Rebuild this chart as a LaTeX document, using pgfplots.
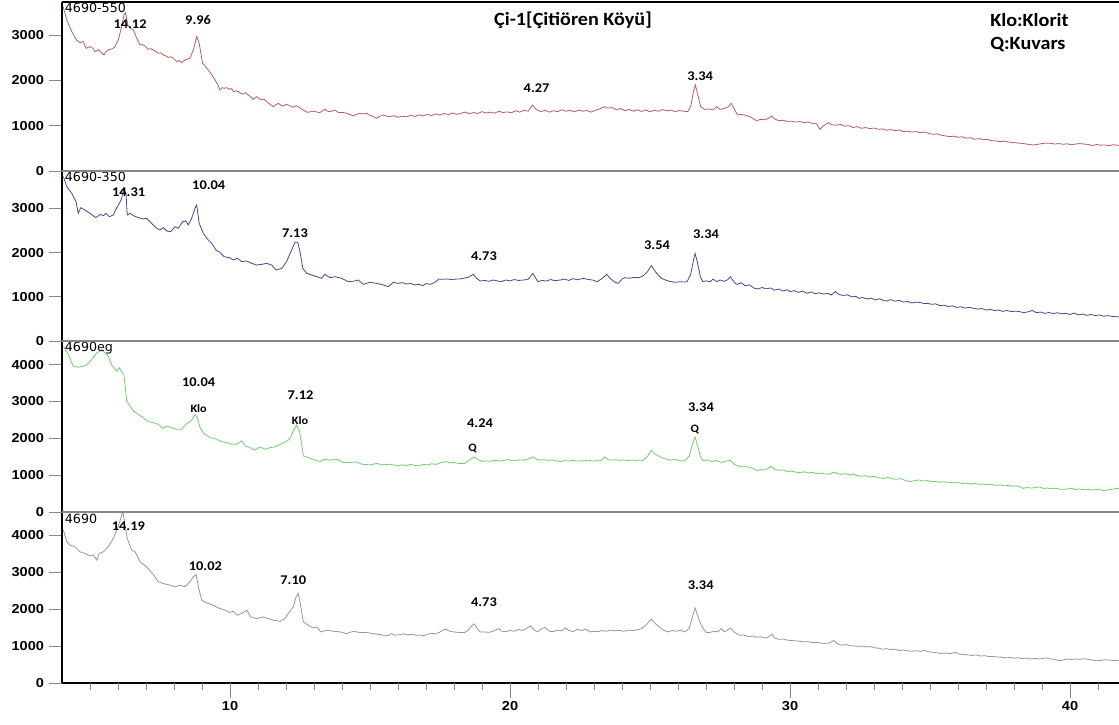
\documentclass[border=0pt]{standalone}
\usepackage{fontspec}
\usepackage{pgfplots}
\usepackage{pgfplotstable}
\pgfplotsset{compat=1.18}
\setmainfont{Liberation Sans}
\newfontfamily\tickfont[FakeStretch=1.12]{Liberation Sans}
\newfontfamily\calfont[FakeStretch=1.08]{Carlito}
\newfontfamily\samplefont{DejaVu Sans}

\definecolor{redline}{RGB}{180,95,92}
\definecolor{navyline}{RGB}{72,72,138}
\definecolor{greenline}{RGB}{112,205,112}
\definecolor{grayline}{RGB}{150,150,150}
\definecolor{sepgray}{RGB}{135,135,135}

% 2-theta (deg) vs. intensity (counts), sample 4690-550
\pgfplotstableread{
x y
4.04 3630
4.17 3334
4.35 3076
4.52 2892
4.64 2834
4.76 2856
4.86 2708
5.00 2745
5.10 2708
5.18 2635
5.30 2680
5.42 2600
5.50 2561
5.58 2640
5.65 2672
5.71 2686
5.80 2700
5.89 2745
6.01 2892
6.13 3187
6.21 3444
6.27 3496
6.35 3224
6.45 3150
6.55 3113
6.67 2929
6.79 2782
6.88 2790
6.96 2760
7.08 2686
7.17 2700
7.26 2672
7.35 2640
7.44 2598
7.53 2610
7.62 2561
7.71 2540
7.80 2510
7.90 2520
7.98 2488
8.10 2414
8.18 2440
8.27 2392
8.39 2451
8.48 2470
8.57 2488
8.69 2672
8.81 2966
8.90 2819
9.02 2377
9.10 2330
9.17 2267
9.26 2200
9.35 2120
9.42 2060
9.50 1972
9.57 1900
9.64 1788
9.72 1840
9.79 1825
9.88 1840
10.00 1803
10.06 1820
10.12 1752
10.21 1770
10.30 1752
10.39 1710
10.48 1700
10.56 1730
10.65 1678
10.74 1640
10.83 1582
10.90 1620
10.95 1641
11.04 1600
11.13 1568
11.22 1580
11.31 1531
11.43 1470
11.55 1420
11.64 1460
11.73 1494
11.82 1450
11.90 1435
12.00 1470
12.08 1457
12.17 1430
12.26 1406
12.35 1440
12.44 1420
12.53 1380
12.62 1347
12.71 1310
12.80 1295
12.92 1320
13.04 1310
13.12 1300
13.21 1288
13.30 1330
13.39 1362
13.48 1320
13.57 1310
13.66 1330
13.75 1347
13.84 1300
13.93 1288
14.05 1290
14.17 1273
14.28 1250
14.40 1214
14.52 1250
14.64 1273
14.76 1260
14.88 1273
14.97 1240
15.06 1214
15.15 1190
15.24 1163
15.36 1210
15.48 1236
15.60 1210
15.71 1200
15.85 1220
16.00 1185
16.15 1210
16.30 1195
16.45 1230
16.60 1205
16.75 1240
16.90 1215
17.05 1250
17.20 1225
17.35 1260
17.50 1235
17.65 1270
17.80 1245
17.95 1280
18.10 1250
18.25 1275
18.40 1300
18.55 1265
18.70 1290
18.85 1270
19.00 1310
19.15 1280
19.30 1300
19.45 1275
19.60 1320
19.75 1290
19.90 1305
20.05 1285
20.20 1330
20.35 1300
20.50 1340
20.65 1320
20.80 1457
20.95 1350
21.10 1310
21.25 1340
21.40 1300
21.55 1330
21.70 1310
21.85 1350
22.00 1320
22.15 1340
22.30 1305
22.45 1345
22.60 1320
22.75 1335
22.90 1300
23.05 1340
23.20 1370
23.37 1420
23.50 1390
23.65 1400
23.80 1350
23.95 1380
24.10 1330
24.25 1360
24.40 1320
24.55 1350
24.70 1315
24.85 1345
25.00 1310
25.15 1340
25.30 1320
25.45 1355
25.60 1330
25.75 1345
25.90 1310
26.05 1335
26.20 1320
26.35 1310
26.45 1420
26.55 1750
26.62 1899
26.70 1700
26.81 1420
26.95 1360
27.10 1370
27.25 1350
27.38 1420
27.50 1360
27.65 1380
27.80 1420
27.90 1494
28.00 1380
28.12 1236
28.25 1250
28.40 1230
28.57 1200
28.70 1150
28.81 1111
28.95 1140
29.10 1130
29.22 1160
29.34 1214
29.45 1150
29.60 1110
29.75 1120
29.90 1095
30.05 1100
30.20 1080
30.35 1090
30.50 1070
30.65 1080
30.80 1050
30.95 1040
31.07 920
31.20 1000
31.37 1067
31.50 1020
31.65 1010
31.80 1030
31.95 990
32.10 1000
32.25 960
32.40 980
32.55 942
32.70 960
32.85 935
33.00 950
33.15 920
33.30 930
33.45 900
33.60 915
33.75 890
33.90 905
34.05 870
34.20 880
34.35 860
34.50 870
34.65 845
34.80 860
34.95 830
35.10 810
35.25 820
35.40 790
35.55 775
35.70 758
35.85 770
36.00 745
36.15 755
36.30 725
36.45 735
36.60 700
36.75 715
36.90 690
37.05 700
37.20 670
37.35 665
37.50 648
37.65 660
37.80 640
37.95 630
38.10 620
38.25 610
38.40 600
38.55 585
38.69 574
38.85 590
39.00 605
39.15 615
39.30 610
39.45 595
39.60 605
39.75 590
39.90 600
40.05 580
40.20 595
40.35 605
40.48 596
40.65 585
40.80 560
40.95 585
41.10 570
41.25 575
41.40 560
41.55 580
41.75 565
}\tabA

% sample 4690-350
\pgfplotstableread{
x y
4.05 3717
4.17 3491
4.35 3340
4.50 3152
4.58 2888
4.67 3016
4.82 2963
5.00 2888
5.21 2790
5.36 2865
5.48 2835
5.57 2888
5.69 2812
5.83 2850
5.93 2986
6.05 3114
6.13 3227
6.21 3453
6.29 3303
6.33 2850
6.43 2888
6.55 2835
6.73 2790
6.90 2760
7.02 2775
7.20 2662
7.38 2549
7.50 2511
7.62 2564
7.74 2488
7.88 2473
8.04 2586
8.15 2549
8.31 2700
8.43 2715
8.51 2624
8.63 2775
8.75 3001
8.81 3076
8.90 2662
9.05 2435
9.19 2307
9.35 2209
9.50 2058
9.64 2006
9.79 1908
9.98 1885
10.12 1832
10.26 1870
10.42 1795
10.60 1810
10.77 1757
10.95 1719
11.13 1734
11.31 1757
11.49 1719
11.64 1606
11.85 1644
12.02 1795
12.20 2058
12.32 2232
12.42 2232
12.50 2021
12.60 1644
12.74 1531
12.92 1493
13.10 1455
13.27 1418
13.39 1508
13.57 1433
13.75 1455
13.99 1418
14.23 1342
14.46 1357
14.58 1380
14.76 1282
15.00 1327
15.24 1304
15.48 1267
15.65 1229
15.83 1327
16.00 1304
16.15 1320
16.30 1290
16.45 1300
16.60 1270
16.75 1280
16.89 1252
17.00 1300
17.15 1280
17.30 1320
17.46 1402
17.60 1395
17.75 1405
17.90 1390
18.05 1400
18.20 1402
18.35 1420
18.50 1440
18.62 1480
18.69 1508
18.80 1420
18.94 1357
19.10 1370
19.25 1350
19.40 1380
19.55 1360
19.68 1342
19.85 1380
20.00 1360
20.15 1390
20.30 1370
20.50 1380
20.65 1400
20.82 1531
20.99 1342
21.15 1370
21.30 1355
21.45 1390
21.60 1365
21.80 1380
21.95 1400
22.10 1370
22.25 1410
22.40 1385
22.63 1418
22.80 1390
22.95 1380
23.12 1342
23.30 1420
23.45 1508
23.60 1400
23.75 1330
23.86 1304
24.00 1400
24.10 1433
24.25 1420
24.40 1435
24.60 1433
24.75 1470
24.90 1560
25.05 1704
25.20 1560
25.41 1418
25.55 1380
25.70 1350
25.90 1327
26.05 1340
26.20 1335
26.32 1342
26.45 1500
26.55 1820
26.61 1983
26.70 1760
26.80 1450
26.89 1342
27.00 1360
27.15 1340
27.25 1400
27.38 1342
27.50 1380
27.65 1350
27.78 1390
27.87 1455
27.95 1380
28.05 1300
28.12 1282
28.25 1320
28.40 1250
28.55 1270
28.70 1200
28.86 1176
29.00 1210
29.15 1180
29.30 1200
29.45 1150
29.60 1175
29.75 1130
29.90 1160
30.00 1116
30.15 1140
30.30 1100
30.45 1130
30.60 1080
30.75 1110
30.90 1070
31.05 1090
31.20 1060
31.35 1080
31.48 1040
31.62 1120
31.75 1050
31.90 1030
32.05 1045
32.20 1000
32.35 1010
32.46 965
32.60 985
32.75 950
32.90 970
33.05 930
33.20 955
33.35 915
33.45 905
33.60 935
33.75 900
33.90 920
34.05 880
34.20 895
34.35 860
34.50 880
34.65 870
34.80 845
34.92 852
35.05 830
35.20 840
35.35 800
35.50 810
35.65 780
35.80 795
35.95 760
36.10 775
36.25 745
36.40 760
36.56 739
36.70 720
36.85 735
37.00 700
37.15 715
37.30 690
37.45 700
37.60 670
37.75 690
37.90 665
38.05 675
38.20 664
38.35 640
38.50 660
38.65 690
38.80 640
38.95 655
39.10 625
39.25 645
39.40 620
39.55 640
39.70 615
39.84 626
40.00 600
40.15 630
40.30 590
40.45 610
40.60 580
40.75 600
40.90 575
41.05 590
41.20 560
41.35 575
41.50 555
41.64 550
41.75 545
}\tabB

% sample 4690eg (glycolated)
\pgfplotstableread{
x y
4.05 4496
4.23 4271
4.40 3955
4.58 3928
4.76 3955
4.90 4000
5.06 4136
5.24 4316
5.42 4406
5.54 4316
5.65 4226
5.77 4000
5.86 3910
5.95 3820
6.05 3910
6.13 3820
6.21 3730
6.31 3009
6.43 2874
6.55 2739
6.73 2649
6.90 2559
7.08 2451
7.26 2424
7.44 2379
7.60 2271
7.74 2334
7.92 2289
8.10 2244
8.27 2244
8.45 2397
8.63 2487
8.75 2649
8.83 2559
8.93 2289
9.07 2126
9.29 2018
9.52 1973
9.70 1910
9.88 1883
10.06 1838
10.24 1838
10.42 1928
10.54 1793
10.71 1748
10.89 1676
11.07 1766
11.25 1703
11.43 1748
11.61 1766
11.79 1838
11.96 1883
12.12 1973
12.26 2198
12.38 2361
12.48 2198
12.56 1838
12.62 1523
12.80 1478
13.04 1406
13.21 1370
13.39 1433
13.57 1406
13.81 1433
14.05 1343
14.29 1343
14.52 1361
14.70 1297
15.00 1279
15.24 1316
15.48 1279
15.71 1297
16.00 1252
16.15 1280
16.30 1260
16.45 1290
16.60 1265
16.73 1252
16.90 1290
17.05 1280
17.20 1310
17.35 1290
17.50 1330
17.71 1370
17.85 1330
18.00 1345
18.15 1320
18.37 1315
18.50 1380
18.62 1450
18.73 1496
18.85 1420
19.02 1370
19.15 1390
19.30 1375
19.45 1405
19.60 1385
19.75 1395
19.92 1424
20.05 1400
20.20 1390
20.35 1420
20.50 1405
20.65 1440
20.82 1496
20.95 1430
21.07 1406
21.20 1420
21.35 1400
21.50 1410
21.65 1385
21.80 1370
21.95 1395
22.10 1380
22.25 1400
22.40 1385
22.63 1388
22.80 1405
22.95 1380
23.10 1395
23.25 1390
23.37 1496
23.50 1420
23.61 1406
23.75 1420
23.90 1400
24.05 1415
24.20 1395
24.35 1410
24.50 1400
24.60 1406
24.75 1400
24.90 1500
25.05 1676
25.20 1560
25.41 1478
25.55 1440
25.74 1406
25.90 1430
26.05 1395
26.23 1388
26.40 1520
26.52 1850
26.61 2036
26.70 1800
26.80 1500
26.89 1388
27.05 1420
27.20 1370
27.35 1400
27.55 1343
27.70 1380
27.87 1406
28.00 1300
28.20 1225
28.35 1250
28.57 1207
28.70 1180
28.81 1117
28.95 1150
29.10 1140
29.20 1180
29.34 1234
29.45 1160
29.60 1130
29.75 1140
29.90 1100
30.05 1110
30.20 1080
30.36 1072
30.50 1090
30.65 1060
30.80 1075
30.95 1040
31.10 1060
31.25 1030
31.43 1027
31.55 1080
31.70 1040
31.85 1020
32.00 1040
32.13 1000
32.26 1027
32.40 990
32.55 970
32.70 985
32.85 950
33.00 965
33.15 930
33.33 910
33.50 935
33.65 900
33.80 890
33.95 905
34.10 860
34.28 820
34.45 850
34.60 870
34.75 840
34.90 855
35.05 825
35.20 830
35.35 805
35.50 820
35.71 802
35.85 790
36.00 800
36.15 770
36.30 785
36.45 760
36.60 775
36.75 750
36.90 757
37.05 740
37.20 750
37.35 720
37.50 735
37.65 710
37.80 725
37.95 700
38.10 712
38.25 670
38.33 640
38.45 665
38.60 650
38.75 660
38.90 680
39.05 640
39.20 650
39.35 630
39.50 645
39.65 615
39.88 622
40.05 640
40.20 610
40.35 625
40.50 600
40.65 615
40.80 595
40.95 610
41.07 604
41.20 580
41.35 600
41.50 615
41.66 640
41.75 630
}\tabC

% sample 4690 (untreated)
\pgfplotstableread{
x y
4.05 4136
4.17 3820
4.29 3729
4.46 3684
4.64 3549
4.82 3504
4.98 3440
5.12 3459
5.24 3323
5.33 3504
5.48 3549
5.65 3684
5.83 3910
5.98 4181
6.10 4452
6.17 4650
6.25 4271
6.33 3910
6.49 3594
6.61 3549
6.79 3278
7.02 3142
7.26 2935
7.44 2736
7.62 2691
7.86 2646
8.04 2601
8.21 2646
8.39 2601
8.57 2736
8.69 2871
8.79 2935
8.87 2601
8.99 2239
9.14 2176
9.35 2122
9.58 2032
9.82 1969
10.00 1905
10.12 1942
10.26 1833
10.48 1905
10.60 1969
10.74 1788
10.95 1743
11.19 1788
11.37 1743
11.55 1698
11.79 1670
11.96 1743
12.12 1923
12.26 2059
12.36 2330
12.44 2420
12.52 2104
12.62 1652
12.80 1562
12.98 1490
13.10 1517
13.24 1382
13.45 1427
13.69 1400
13.93 1382
14.17 1336
14.40 1400
14.64 1364
14.88 1364
15.12 1336
15.36 1309
15.60 1273
15.77 1336
15.90 1291
16.07 1309
16.20 1330
16.35 1300
16.50 1320
16.65 1290
16.80 1300
16.89 1273
17.05 1320
17.20 1340
17.35 1330
17.50 1380
17.60 1430
17.71 1454
17.85 1400
18.00 1380
18.15 1370
18.37 1364
18.50 1420
18.62 1540
18.73 1598
18.85 1450
18.94 1382
19.10 1380
19.25 1370
19.40 1400
19.50 1440
19.60 1472
19.70 1400
19.85 1390
20.00 1420
20.15 1400
20.30 1450
20.45 1420
20.60 1480
20.74 1544
20.85 1440
20.99 1382
21.10 1460
21.25 1500
21.40 1400
21.55 1390
21.70 1430
21.85 1410
21.97 1490
22.10 1420
22.25 1390
22.40 1450
22.55 1420
22.70 1460
22.85 1380
23.00 1400
23.15 1390
23.30 1420
23.45 1400
23.60 1430
23.75 1410
23.90 1420
24.05 1400
24.27 1427
24.40 1420
24.55 1440
24.70 1470
24.85 1560
25.05 1725
25.20 1600
25.33 1517
25.50 1420
25.65 1382
25.80 1420
25.95 1400
26.10 1427
26.25 1380
26.40 1480
26.52 1800
26.61 2032
26.70 1820
26.81 1607
26.92 1450
27.02 1364
27.15 1370
27.30 1400
27.42 1382
27.55 1472
27.65 1382
27.75 1420
27.87 1490
28.00 1380
28.20 1291
28.35 1300
28.50 1250
28.65 1270
28.80 1240
28.95 1250
29.10 1220
29.20 1230
29.35 1320
29.45 1220
29.60 1180
29.75 1190
29.90 1160
30.05 1150
30.20 1140
30.35 1130
30.50 1111
30.65 1120
30.80 1090
30.95 1100
31.10 1080
31.25 1070
31.40 1080
31.56 1150
31.70 1060
31.85 1020
32.00 1040
32.15 1010
32.30 1000
32.45 990
32.60 1000
32.75 975
32.90 980
33.05 950
33.20 940
33.28 912
33.45 930
33.60 900
33.75 915
33.90 880
34.05 895
34.20 870
34.35 860
34.50 875
34.65 855
34.80 880
34.95 845
35.10 830
35.25 815
35.40 800
35.55 810
35.74 795
35.90 830
36.05 785
36.20 770
36.35 760
36.50 745
36.65 760
36.80 730
36.95 740
37.10 715
37.25 720
37.38 704
37.55 700
37.70 680
37.85 690
38.00 670
38.15 685
38.30 660
38.45 675
38.60 650
38.75 665
38.90 650
39.00 659
39.15 680
39.30 650
39.45 640
39.60 605
39.75 620
39.90 650
40.05 635
40.20 650
40.35 640
40.50 655
40.66 641
40.80 620
40.95 600
41.10 610
41.25 630
41.40 620
41.55 610
41.75 614
}\tabD

\pgfplotsset{
  xrdpanel/.style={
    scale only axis,
    width=792.75pt,
    xmin=4, xmax=41.75, ymin=0,
    tick align=outside,
    major tick length=10pt,
    minor tick length=5pt,
    tick style={draw=sepgray, line width=0.6pt},
    scaled y ticks=false,
    scaled x ticks=false,
    /pgf/number format/assume math mode=true,
    /pgf/number format/1000 sep={},
    ticklabel style={font=\tickfont\bfseries\fontsize{9.75}{11}\selectfont},
    clip mode=individual,
  },
  % panels that only carry an intensity axis
  upperpanel/.style={
    xrdpanel,
    axis x line=none,
    axis y line*=left,
    y axis line style={black, line width=1.8pt, -},
  },
}
\tikzset{
  peak/.style={font=\calfont\bfseries\fontsize{10}{12}\selectfont, inner sep=0pt},
  mineral/.style={font=\calfont\bfseries\fontsize{8.5}{10}\selectfont, inner sep=0pt},
  sample/.style={font=\samplefont\fontsize{9.5}{11}\selectfont, anchor=north west, inner sep=1pt, xshift=1pt},
  xmajor/.style={draw=sepgray, line width=0.6pt},
}

\begin{document}
\begin{tikzpicture}
\path[use as bounding box] (0,0) rectangle (839.25pt,543pt);

% bottom panel: untreated sample, carries the 2-theta axis
\begin{axis}[xrdpanel, at={(46.5pt,30.75pt)}, anchor=south west,
  height=128.25pt, ymax=4625,
  axis lines*=left,
  x axis line style={black, line width=1.5pt, -},
  y axis line style={black, line width=1.8pt, -},
  ytick={0,1000,2000,3000,4000},
  xtick={10,20,30,40}, minor x tick num=9]
  \addplot[grayline, line width=0.6pt] table {\tabD};
  \node[sample] at (rel axis cs:0,1) {4690};
  \node[peak] at (axis cs:6.37,4247) {14.19};
  \node[peak] at (axis cs:9.12,3172) {10.02};
  \node[peak] at (axis cs:12.26,2769) {7.10};
  \node[peak] at (axis cs:19.07,2186) {4.73};
  \node[peak] at (axis cs:26.81,2653) {3.34};
  % 2-theta tick marks below the axis line
  \pgfplotsinvokeforeach{10,20,30,40}{
    \draw[xmajor] (axis cs:#1,0) -- ([yshift=-11pt]axis cs:#1,0);
  }
  \pgfplotsinvokeforeach{5,6,7,8,9,11,12,13,14,15,16,17,18,19,21,22,23,24,25,26,27,28,29,31,32,33,34,35,36,37,38,39,41}{
    \draw[xmajor] (axis cs:#1,0) -- ([yshift=-5.5pt]axis cs:#1,0);
  }
\end{axis}

% glycolated sample
\begin{axis}[upperpanel, at={(46.5pt,159pt)}, anchor=south west,
  height=128.25pt, ymax=4640,
  ytick={0,1000,2000,3000,4000}]
  \addplot[greenline, line width=0.6pt] table {\tabC};
  \node[sample] at (rel axis cs:0,1) {4690eg};
  \node[peak] at (axis cs:8.88,3531) {10.04};
  \node[mineral] at (axis cs:8.88,2818) {Klo};
  \node[peak] at (axis cs:12.52,3171) {7.12};
  \node[mineral] at (axis cs:12.50,2474) {Klo};
  \node[peak] at (axis cs:18.93,2403) {4.24};
  \node[mineral] at (axis cs:18.66,1726) {Q};
  \node[peak] at (axis cs:26.82,2837) {3.34};
  \node[mineral] at (axis cs:26.60,2249) {Q};
  \draw[sepgray, line width=1.1pt] (rel axis cs:0,0) -- (rel axis cs:1,0);
\end{axis}

% heated to 350 C
\begin{axis}[upperpanel, at={(46.5pt,287.25pt)}, anchor=south west,
  height=127.5pt, ymax=3846,
  ytick={0,1000,2000,3000}]
  \addplot[navyline, line width=0.6pt] table {\tabB};
  \node[sample] at (rel axis cs:0,1) {4690-350};
  \node[peak] at (axis cs:6.38,3378) {14.31};
  \node[peak] at (axis cs:9.24,3530) {10.04};
  \node[peak] at (axis cs:12.32,2436) {7.13};
  \node[peak] at (axis cs:19.07,1908) {4.73};
  \node[peak] at (axis cs:25.25,2172) {3.54};
  \node[peak] at (axis cs:27.00,2414) {3.34};
  \draw[sepgray, line width=1.1pt] (rel axis cs:0,0) -- (rel axis cs:1,0);
\end{axis}

% heated to 550 C
\begin{axis}[upperpanel, at={(46.5pt,414.75pt)}, anchor=south west,
  height=126.75pt, ymax=3731,
  ytick={0,1000,2000,3000}]
  \addplot[redline, line width=0.6pt] table {\tabA};
  \node[sample] at (rel axis cs:0,1) {4690-550};
  \node[peak] at (axis cs:6.43,3245) {14.12};
  \node[peak] at (axis cs:8.86,3333) {9.96};
  \node[peak] at (axis cs:20.95,1832) {4.27};
  \node[peak] at (axis cs:26.79,2097) {3.34};
  \draw[sepgray, line width=1.1pt] (rel axis cs:0,0) -- (rel axis cs:1,0);
  \draw[black, line width=1.5pt] (rel axis cs:0,1) -- (rel axis cs:1,1);
\end{axis}

\node[font=\calfont\bfseries\fontsize{14}{16}\selectfont] at (429.75pt,528pt) {Çi-1[Çitiören Köyü]};
\node[font=\calfont\bfseries\fontsize{14}{16}\selectfont, anchor=west, inner sep=0pt] at (742.5pt,528pt) {Klo:Klorit};
\node[font=\calfont\bfseries\fontsize{14}{16}\selectfont, anchor=west, inner sep=0pt] at (742.5pt,509.25pt) {Q:Kuvars};
\end{tikzpicture}
\end{document}
